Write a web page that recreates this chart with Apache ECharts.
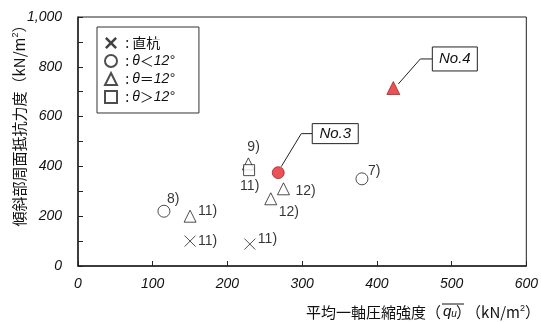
<!DOCTYPE html>
<html>
<head>
<meta charset="utf-8">
<script src="https://cdn.jsdelivr.net/npm/echarts@6/dist/echarts.min.js"></script>
<style>
  html, body { margin: 0; padding: 0; background: #fff; }
  #main { width: 541px; height: 322px; }
</style>
</head>
<body>
<div id="main"></div>
<script>
  // 直杭
  var pileQu = [150, 230];
  var pileFs = [100, 88];
  var pileRef = ['11)', '11)'];
  // θ<12°
  var ltQu = [115, 380];
  var ltFs = [220, 350];
  var ltRef = ['8)', '7)'];
  // θ=12°
  var eqQu = [150, 228, 275, 258];
  var eqFs = [200, 410, 310, 270];
  var eqRef = ['11)', '9)', '12)', '12)'];
  // θ>12°
  var gtQu = [229];
  var gtFs = [385];
  var gtRef = ['11)'];
  // 本試験
  var no3 = [268, 375];
  var no4 = [422, 715];

  var xTicks = [0, 100, 200, 300, 400, 500, 600];
  var yTicks = [0, 200, 400, 600, 800, 1000];

  // label offsets (left edge / middle) from each symbol centre
  var pileOff = [[8, 0], [8, -5]];
  var ltOff = [[3, -12], [6, -8]];
  var eqOff = [[8, -5], [-1, -17], [12, 2], [8, 13]];
  var gtOff = [[-9, 16]];

  var font = '"Liberation Sans", Arial, sans-serif';
  var cjk = '"Noto Sans CJK JP", "Liberation Sans", sans-serif';

  function pts(xs, ys, refs, offs) {
    return xs.map(function (x, i) {
      return {
        value: [x, ys[i]],
        label: {
          show: true,
          formatter: refs[i],
          position: 'inside',
          align: 'left',
          verticalAlign: 'middle',
          offset: offs[i],
          color: '#000',
          fontSize: 14,
          fontFamily: font
        }
      };
    });
  }

  var openStyle = { color: '#fff', borderColor: '#222', borderWidth: 1 };
  var xPath = 'path://M0,0L10,10M10,0L0,10';
  var xBold = 'path://M0,1.5L1.5,0L5,3.5L8.5,0L10,1.5L6.5,5L10,8.5L8.5,10L5,6.5L1.5,10L0,8.5L3.5,5Z';

  var legendText = {
    pile: '{n| : 直杭}',
    lt: '{n| : }{i|θ}{n|＜}{i|12°}',
    eq: '{n| : }{i|θ}{n|＝}{i|12°}',
    gt: '{n| : }{i|θ}{n|＞}{i|12°}'
  };

  var tickRich = { t: { fontSize: 14, fontStyle: 'italic', fontFamily: font, color: '#111' } };

  var chart = echarts.init(document.getElementById('main'));
  var option = {
    animation: false,
    grid: {
      left: 78, right: 14, top: 17, bottom: 56,
      show: true, borderColor: '#222', borderWidth: 1
    },
    legend: {
      orient: 'vertical',
      left: 97, top: 27,
      padding: [9, 24, 9, 7],
      itemGap: 4,
      itemWidth: 12, itemHeight: 12,
      borderColor: '#333', borderWidth: 1,
      backgroundColor: '#fff',
      data: [
        { name: 'pile', icon: xBold, itemStyle: { color: '#111', borderWidth: 0 } },
        { name: 'lt' }, { name: 'eq' }, { name: 'gt' }
      ],
      formatter: function (n) { return legendText[n]; },
      textStyle: {
        rich: {
          n: { fontSize: 14, fontFamily: cjk, color: '#111' },
          i: { fontSize: 14, fontFamily: font, fontStyle: 'italic', color: '#111' }
        }
      }
    },
    xAxis: {
      type: 'value',
      min: xTicks[0], max: xTicks[xTicks.length - 1], interval: 100,
      axisLine: { lineStyle: { color: '#222', width: 1.5 } },
      axisTick: { inside: true, length: 5, lineStyle: { color: '#222' } },
      axisLabel: {
        margin: 11, rich: tickRich,
        formatter: function (v) { return '{t|' + v + '}'; }
      },
      splitLine: { show: false }
    },
    yAxis: {
      type: 'value',
      min: yTicks[0], max: yTicks[yTicks.length - 1], interval: 200,
      axisLine: { show: true, lineStyle: { color: '#222', width: 1.5 } },
      axisTick: { show: true, inside: true, length: 5, lineStyle: { color: '#222' } },
      minorTick: { show: true, splitNumber: 2, length: 5, lineStyle: { color: '#222' } },
      axisLabel: {
        margin: 16, rich: tickRich,
        formatter: function (v) { return '{t|' + (v >= 1000 ? '1,000' : v) + '}'; }
      },
      splitLine: { show: false }
    },
    series: [
      {
        name: 'pile', type: 'scatter', symbol: xPath, symbolSize: 11,
        itemStyle: { color: 'none', borderColor: '#222', borderWidth: 1 },
        data: pts(pileQu, pileFs, pileRef, pileOff)
      },
      {
        name: 'lt', type: 'scatter', symbol: 'circle', symbolSize: 12,
        itemStyle: openStyle,
        data: pts(ltQu, ltFs, ltRef, ltOff)
      },
      {
        name: 'eq', type: 'scatter', symbol: 'triangle', symbolSize: 12,
        itemStyle: openStyle,
        data: pts(eqQu, eqFs, eqRef, eqOff)
      },
      {
        name: 'gt', type: 'scatter', symbol: 'rect', symbolSize: 11,
        itemStyle: openStyle,
        data: pts(gtQu, gtFs, gtRef, gtOff)
      },
      {
        name: 'No.3', type: 'scatter', symbol: 'circle', symbolSize: 12,
        itemStyle: { color: '#e8242a', borderColor: '#7a1010', borderWidth: 0.8 },
        data: [no3]
      },
      {
        name: 'No.4', type: 'scatter', symbol: 'triangle', symbolSize: 13,
        itemStyle: { color: '#e8242a', borderColor: '#7a1010', borderWidth: 0.8 },
        data: [no4]
      }
    ],
    graphic: [
      {
        type: 'text', rotation: Math.PI / 2, x: 19, y: 122,
        style: {
          text: '傾斜部周面抵抗力度（kN/m{s|2}）',
          fontSize: 15, fontFamily: cjk, fill: '#111',
          align: 'center', verticalAlign: 'middle',
          rich: { s: { fontSize: 9, verticalAlign: 'top', fontFamily: font } }
        }
      },
      {
        type: 'text', x: 441, y: 312,
        style: {
          text: '平均一軸圧縮強度（', fontSize: 15, fontFamily: cjk, fill: '#111',
          align: 'right', verticalAlign: 'middle'
        }
      },
      {
        type: 'text', x: 443, y: 312,
        style: {
          text: '{q|q}{u|u}', fill: '#111', align: 'left', verticalAlign: 'middle',
          rich: {
            q: { fontSize: 15, fontStyle: 'italic', fontFamily: font },
            u: { fontSize: 10, fontStyle: 'italic', fontFamily: font, verticalAlign: 'bottom' }
          }
        }
      },
      {
        type: 'text', x: 456, y: 312,
        style: {
          text: '）', fontSize: 15, fontFamily: cjk, fill: '#111',
          align: 'left', verticalAlign: 'middle'
        }
      },
      {
        type: 'text', x: 540, y: 312,
        style: {
          text: '（kN/m{s|2}）', fontSize: 15, fontFamily: cjk, fill: '#111',
          align: 'right', verticalAlign: 'middle',
          rich: { s: { fontSize: 9, verticalAlign: 'top', fontFamily: font } }
        }
      },
      {
        type: 'line', shape: { x1: 442, y1: 304, x2: 464, y2: 304 },
        style: { stroke: '#111', lineWidth: 1 }
      }
    ]
  };
  chart.setOption(option);

  // callout boxes for No.3 / No.4, anchored on their points
  var p3 = chart.convertToPixel({ seriesIndex: 4 }, no3);
  var p4 = chart.convertToPixel({ seriesIndex: 5 }, no4);
  function callout(p, txt, a, k, bx, by, bw, bh) {
    return [
      {
        type: 'polyline',
        shape: { points: [[p[0] + a[0], p[1] + a[1]], [p[0] + k[0], p[1] + k[1]], [p[0] + bx, p[1] + k[1]]] },
        style: { stroke: '#222', lineWidth: 1, fill: null }
      },
      {
        type: 'rect', shape: { x: p[0] + bx, y: p[1] + by, width: bw, height: bh },
        style: { fill: '#fff', stroke: '#222', lineWidth: 1 }
      },
      {
        type: 'text', x: p[0] + bx + bw / 2, y: p[1] + by + bh / 2,
        style: {
          text: txt, fontSize: 15, fontStyle: 'italic', fontFamily: font, fill: '#111',
          align: 'center', verticalAlign: 'middle'
        }
      }
    ];
  }
  var extra = option.graphic
    .concat(callout(p3, 'No.3', [3, -6], [23, -39], 34, -49, 46, 20))
    .concat(callout(p4, 'No.4', [5, -4], [27, -29], 39, -41, 45, 24));
  chart.setOption({ graphic: extra });
</script>
</body>
</html>
